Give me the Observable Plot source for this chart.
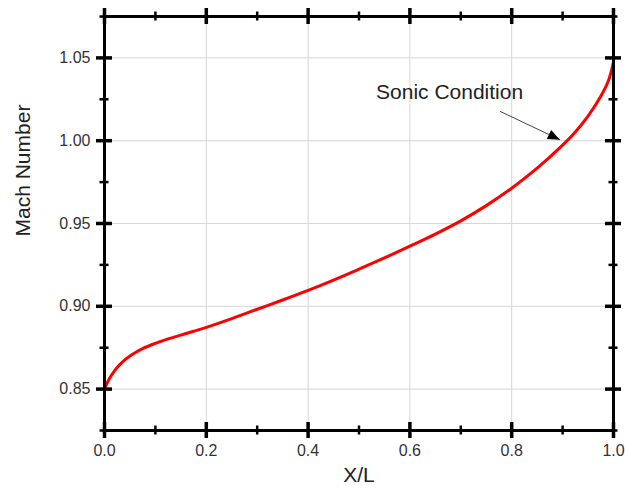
<!DOCTYPE html>
<html>
<head>
<meta charset="utf-8">
<script src="https://cdn.jsdelivr.net/npm/d3@7"></script>
<script src="https://cdn.jsdelivr.net/npm/@observablehq/plot@0.6"></script>
<style>
  html, body { margin: 0; padding: 0; background: #fff; }
  #chart svg { display: block; }
</style>
</head>
<body>
<div id="chart"></div>
<script>
// Data
const xl   = [0, 0.01, 0.02, 0.03, 0.04, 0.05, 0.06, 0.075, 0.1, 0.125, 0.15, 0.175, 0.2, 0.25, 0.3, 0.35, 0.4, 0.45, 0.5, 0.55, 0.6, 0.65, 0.7, 0.75, 0.8, 0.85, 0.9, 0.925, 0.95, 0.975, 0.99, 1.0];
const mach = [0.850, 0.8565, 0.8612, 0.8648, 0.8677, 0.8700, 0.8720, 0.8745, 0.8776, 0.8803, 0.8826, 0.8849, 0.8873, 0.8926, 0.8982, 0.9038, 0.9096, 0.9158, 0.9224, 0.9292, 0.9363, 0.9436, 0.9516, 0.9608, 0.9713, 0.9834, 0.9973, 1.0053, 1.0148, 1.0268, 1.0362, 1.0474];

const xDomain = [0, 1];
const yDomain = [0.825, 1.075];
const xMajor = [0, 0.2, 0.4, 0.6, 0.8, 1.0];
const xMinor = [0.1, 0.3, 0.5, 0.7, 0.9];
const yMajor = [0.85, 0.90, 0.95, 1.00, 1.05];
const yMinor = [0.825, 0.875, 0.925, 0.975, 1.025, 1.075];
const xGrid = [0.2, 0.4, 0.6, 0.8];

const xTitle = "X/L";
const yTitle = "Mach Number";
const noteText = "Sonic Condition";
const noteAt = [0.678, 1.029];         // label centre (data units)
const arrowFrom = [0.778, 1.0176];     // arrow tail
const arrowTo = [0.8945, 1.0006];      // arrow tip

const data = xl.map((x, i) => ({x, m: mach[i]}));

const font = "'Liberation Sans', Arial, Helvetica, sans-serif";
const [x0, x1] = xDomain, [y0, y1] = yDomain;

const chart = Plot.plot({
  width: 625,
  height: 495,
  marginLeft: 104,
  marginRight: 12,
  marginTop: 16,
  marginBottom: 65,
  style: {fontFamily: font, background: "#fff"},
  x: {domain: xDomain},
  y: {domain: yDomain},
  marks: [
    // grid
    Plot.ruleX(xGrid, {x: d => d, stroke: "#d6d6d6", strokeWidth: 1}),
    Plot.ruleY(yMajor, {y: d => d, stroke: "#d6d6d6", strokeWidth: 1}),
    // curve
    Plot.line(data, {x: "x", y: "m", stroke: "#ff0000", strokeWidth: 3, curve: "catmull-rom"}),
    // annotation
    Plot.text([noteText], {x: noteAt[0], y: noteAt[1], text: d => d, fontSize: 21, fill: "#222"}),
    Plot.line([arrowFrom, arrowTo], {x: d => d[0], y: d => d[1], stroke: "#444", strokeWidth: 1}),
    Plot.vector([arrowTo], {x: d => d[0], y: d => d[1], length: 12, rotate: 115.5, shape: "spike", r: 5, anchor: "end", fill: "#000", stroke: "none"}),
    // frame
    Plot.frame({stroke: "#000", strokeWidth: 3}),
    // bottom ticks
    Plot.ruleX(xMajor, {x: d => d, y1: y0, y2: y0, insetTop: -8, insetBottom: -8, stroke: "#000", strokeWidth: 3.5}),
    Plot.ruleX(xMinor, {x: d => d, y1: y0, y2: y0, insetTop: -4.5, insetBottom: -4.5, stroke: "#000", strokeWidth: 2.5}),
    // top ticks
    Plot.ruleX(xMajor, {x: d => d, y1: y1, y2: y1, insetTop: -8, insetBottom: -8, stroke: "#000", strokeWidth: 3.5}),
    Plot.ruleX(xMinor, {x: d => d, y1: y1, y2: y1, insetTop: -4.5, insetBottom: -4.5, stroke: "#000", strokeWidth: 2.5}),
    // left ticks
    Plot.ruleY(yMajor, {y: d => d, x1: x0, x2: x0, insetLeft: -8, insetRight: -8, stroke: "#000", strokeWidth: 3.5}),
    Plot.ruleY(yMinor, {y: d => d, x1: x0, x2: x0, insetLeft: -4.5, insetRight: -4.5, stroke: "#000", strokeWidth: 2.5}),
    // right ticks
    Plot.ruleY(yMajor, {y: d => d, x1: x1, x2: x1, insetLeft: -8, insetRight: -8, stroke: "#000", strokeWidth: 3.5}),
    Plot.ruleY(yMinor, {y: d => d, x1: x1, x2: x1, insetLeft: -4.5, insetRight: -4.5, stroke: "#000", strokeWidth: 2.5}),
    // tick labels
    Plot.axisX({ticks: xMajor, tickSize: 0, tickPadding: 14, tickFormat: d3.format(".1f"), fontSize: 16, fill: "#333", label: null}),
    Plot.axisY({ticks: yMajor, tickSize: 0, tickPadding: 14, tickFormat: d3.format(".2f"), fontSize: 16, fill: "#333", label: null}),
    // axis titles
    Plot.text([xTitle], {frameAnchor: "bottom", dy: 51, text: d => d, fontSize: 21, fill: "#222"}),
    Plot.text([yTitle], {frameAnchor: "left", dx: -81, dy: 13, rotate: -90, text: d => d, fontSize: 21, fill: "#222"})
  ]
});

document.getElementById("chart").appendChild(chart);
</script>
</body>
</html>
